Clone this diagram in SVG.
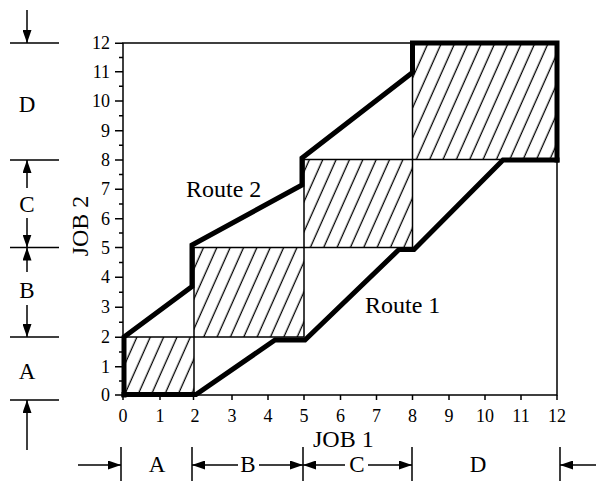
<svg xmlns="http://www.w3.org/2000/svg" width="596" height="481" viewBox="0 0 596 481">
<style>
.thin{fill:none;stroke:#000;stroke-width:1.5}
.route{fill:none;stroke:#000;stroke-width:5;stroke-linejoin:miter}
.num{font-family:"Liberation Serif","Times New Roman",serif;font-size:18px;fill:#000}
.lbl{font-family:"Liberation Serif","Times New Roman",serif;font-size:24px;fill:#000}
.dim{font-family:"Liberation Serif","Times New Roman",serif;font-size:23px;fill:#000;text-anchor:middle}
.hatched{fill:url(#hatch);stroke:#000;stroke-width:1.5}
.arr{fill:none;stroke:#000;stroke-width:1.5;marker-end:url(#ah)}
</style>
<defs>
<pattern id="hatch" patternUnits="userSpaceOnUse" width="12.2" height="20" patternTransform="rotate(24)">
<line x1="6" y1="-1" x2="6" y2="21" stroke="#000" stroke-width="1.3"/>
</pattern>
<marker id="ah" markerUnits="userSpaceOnUse" markerWidth="13" markerHeight="9" refX="13" refY="4.5" orient="auto" viewBox="0 0 13 9">
<path d="M0,0 L13,4.5 L0,9 Z" fill="#000"/>
</marker>
</defs>

<g id="regions">
<rect id="rectA" class="hatched" x="123" y="337" width="71" height="58"/>
<rect id="rectB" class="hatched" x="194" y="247.5" width="110" height="89.5"/>
<rect id="rectC" class="hatched" x="304" y="159.5" width="108.5" height="88"/>
<rect id="rectD" class="hatched" x="412.5" y="43" width="144.5" height="116.5"/>
</g>

<g id="axes">
<path class="thin" d="M123,43 H557 V395 H123 Z"/>
<path class="thin" d="M115,395H123M119,381H123M115,366.7H123M119,352H123M115,337.3H123M119,322.3H123M115,307.3H123M119,292.3H123M115,277.3H123M119,262.4H123M115,247.5H123M119,233H123M115,218.7H123M119,204H123M115,189.3H123M119,174.6H123M115,160H123M119,145.3H123M115,130.7H123M119,115.8H123M115,101H123M119,86.3H123M115,71.7H123M119,57.5H123M115,43.3H123"/>
<path class="thin" d="M123,395V400M160,395V400M193.5,395V400M232,395V400M268,395V400M304,395V400M340.5,395V400M376.5,395V400M412.5,395V400M449,395V400M485,395V400M521,395V400M557,395V400"/>
<g class="num" text-anchor="end">
<text x="110" y="401">0</text>
<text x="110" y="372.7">1</text>
<text x="110" y="343.3">2</text>
<text x="110" y="313.3">3</text>
<text x="110" y="283.3">4</text>
<text x="110" y="253.5">5</text>
<text x="110" y="224.7">6</text>
<text x="110" y="195.3">7</text>
<text x="110" y="166">8</text>
<text x="110" y="136.7">9</text>
<text x="110" y="107">10</text>
<text x="110" y="77.7">11</text>
<text x="110" y="49.3">12</text>
</g>
<g class="num" text-anchor="middle">
<text x="123" y="421.5">0</text>
<text x="160" y="421.5">1</text>
<text x="195" y="421.5">2</text>
<text x="232" y="421.5">3</text>
<text x="268" y="421.5">4</text>
<text x="304" y="421.5">5</text>
<text x="340.5" y="421.5">6</text>
<text x="376.5" y="421.5">7</text>
<text x="412.5" y="421.5">8</text>
<text x="449" y="421.5">9</text>
<text x="485" y="421.5">10</text>
<text x="521" y="421.5">11</text>
<text x="557" y="421.5">12</text>
</g>
<text class="lbl" x="313" y="447">JOB 1</text>
<text class="lbl" transform="translate(88,226) rotate(-90)" text-anchor="middle">JOB 2</text>
</g>

<g id="connectors">
<path id="route2" class="route" d="M124,397.5 L124,337 L192,286.5 L192,245 L302,185 L302,158 L412.5,72.5 L412.5,43 L557,43 L557,162.5"/>
<path id="route1" class="route" d="M121.5,394.5 L196,394.5 L275,340 L305,340 L399,249.5 L414,249.5 L503,160 L559.5,160"/>
</g>

<g id="route-labels">
<text class="lbl" x="186" y="197">Route 2</text>
<text class="lbl" x="365" y="313">Route 1</text>
</g>

<g id="left-dimensions">
<path class="thin" d="M10,43H59M10,160H59M10,247.5H59M10,337H59M10,400H59"/>
<line class="arr" x1="27" y1="10" x2="27" y2="43"/>
<line class="arr" x1="27" y1="188" x2="27" y2="160"/>
<line class="arr" x1="27" y1="218" x2="27" y2="247.5"/>
<line class="arr" x1="27" y1="272" x2="27" y2="247.5"/>
<line class="arr" x1="27" y1="305" x2="27" y2="337"/>
<line class="arr" x1="27" y1="450" x2="27" y2="400"/>
<text class="dim" x="27" y="112">D</text>
<text class="dim" x="27" y="212">C</text>
<text class="dim" x="27" y="298">B</text>
<text class="dim" x="27" y="379">A</text>
</g>

<g id="bottom-dimensions">
<path class="thin" d="M121,447V481M192,447V481M303,447V481M412,447V481M560,447V481"/>
<line class="arr" x1="78" y1="465" x2="121" y2="465"/>
<line class="arr" x1="238" y1="465" x2="192" y2="465"/>
<line class="arr" x1="259" y1="465" x2="303" y2="465"/>
<line class="arr" x1="345" y1="465" x2="303" y2="465"/>
<line class="arr" x1="368" y1="465" x2="412" y2="465"/>
<line class="arr" x1="596" y1="465" x2="560" y2="465"/>
<text class="dim" x="157" y="472">A</text>
<text class="dim" x="248" y="472">B</text>
<text class="dim" x="357" y="472">C</text>
<text class="dim" x="478" y="472">D</text>
</g>
</svg>
